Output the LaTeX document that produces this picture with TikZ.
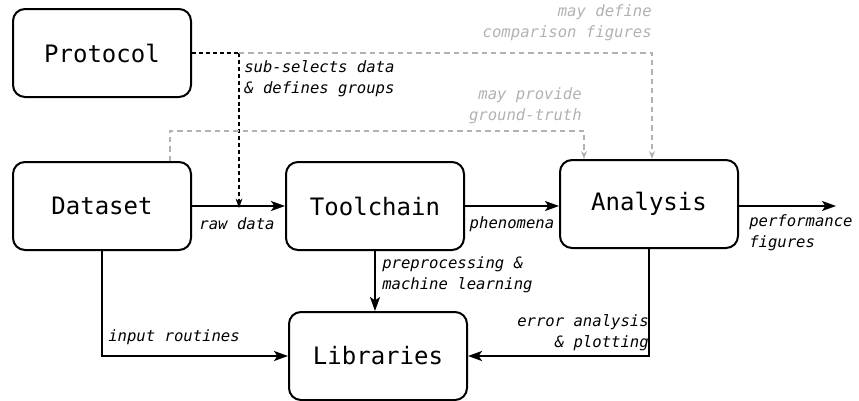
\documentclass[tikz,border=0pt]{standalone}
\usepackage{fontspec}
\setmonofont{DejaVu Sans Mono}
\usepackage{tikz}
\usetikzlibrary{arrows.meta}
\definecolor{optgray}{RGB}{178,178,178}
\tikzset{
  stage/.style={draw, rounded corners=9pt, line width=1.5pt, minimum width=133.5pt, minimum height=66pt, inner sep=0pt, font=\ttfamily\fontsize{18}{22}\selectfont},
  flow/.style={line width=1.4pt, -{Stealth[length=10.5pt,width=7.5pt,inset=2.5pt]}},
  hint/.style={font=\ttfamily\itshape\fontsize{11.7}{15.75}\selectfont, inner sep=0.75pt},
  select/.style={line width=1.1pt, dash pattern=on 3pt off 2.2pt},
  maybe/.style={optgray, line width=0.9pt, dash pattern=on 4pt off 3pt},
}
\begin{document}
\begin{tikzpicture}[x=0.75pt,y=0.75pt,yscale=-1,xscale=1]
\useasboundingbox (0,0) rectangle (859,400);

%Shape: Rounded Rect
\node [stage] (protocol) at (102,53) {Protocol};
\node [stage] (dataset) at (102,206) {Dataset};
\node [stage] (toolchain) at (375,206) {Toolchain};
\node [stage] (analysis) at (649,204) {Analysis};
\node [stage] (libraries) at (378,356) {Libraries};

\coordinate (split) at (239,53);
\coordinate (result) at (836,206);

%Straight Lines
\draw [flow] (dataset) -- (toolchain);
\draw [flow] (toolchain) -- (analysis.west |- toolchain);
\draw [flow] (analysis.east |- result) -- (result);
\draw [flow] (toolchain.south) -- (toolchain.south |- libraries.north);
\draw [flow] (dataset.south) |- (libraries.west);
\draw [flow] (analysis.south) |- (libraries.east);

%Dashed Lines
\draw [select] (protocol.east) -- (split);
\draw [select, -{Stealth[length=7pt,width=5pt,inset=2pt]}] (split) -- ([yshift=1.5pt]split |- dataset.east);
\draw [maybe, -{Stealth[length=6pt,width=4.5pt,inset=1.8pt]}] (split) -| ([xshift=2.25pt]analysis.north);
\draw [maybe, -{Stealth[length=6pt,width=4.5pt,inset=1.8pt]}] ([xshift=51pt]dataset.north) -- ++(0,-30) -| ([xshift=-48.75pt]analysis.north);

% Text Node
\node [hint, anchor=west, align=left] (sublabel) at (243,79) {sub-selects data\\\& defines groups};
% Text Node
\node [hint, anchor=east, align=right, text=optgray] (cmplabel) at (653,23) {may define\\comparison figures};
% Text Node
\node [hint, anchor=east, align=right, text=optgray] (gtlabel) at (583,106) {may provide\\ground-truth};
% Text Node
\node [hint] (rawlabel) at (237,224) {raw data};
% Text Node
\node [hint] (phenlabel) at (512,224) {phenomena};
% Text Node
\node [hint, anchor=west, align=left] (perflabel) at (748,233) {performance\\figures};
% Text Node
\node [hint, anchor=west, align=left] (prelabel) at (381,275) {preprocessing \&\\machine learning};
% Text Node
\node [hint, anchor=west] (inlabel) at (107,337) {input routines};
% Text Node
\node [hint, anchor=east, align=right] (errlabel) at (650,333) {error analysis\\\& plotting};

\end{tikzpicture}
\end{document}
